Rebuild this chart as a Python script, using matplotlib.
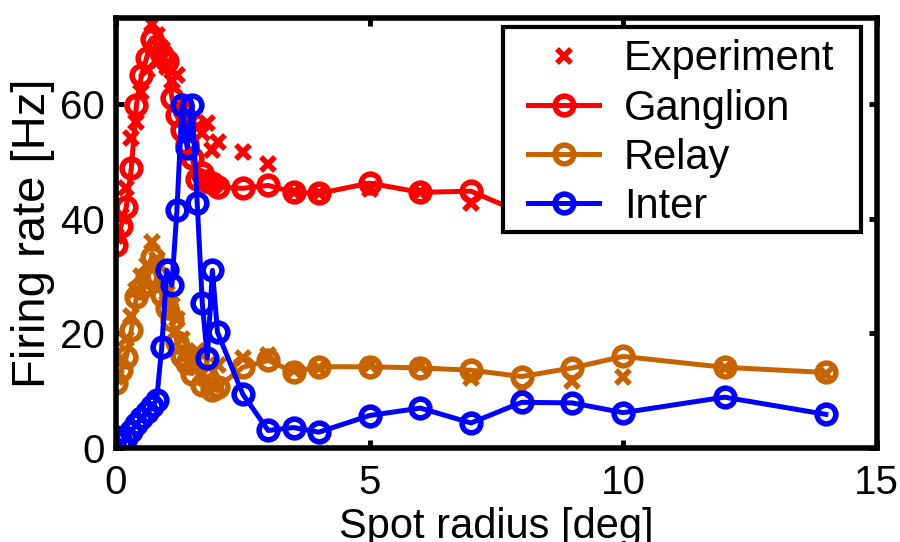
#!/usr/bin/env python3
"""Firing rate vs spot radius: experiment and model cell types."""

import matplotlib
matplotlib.use("Agg")
import matplotlib.pyplot as plt
from matplotlib.patches import Rectangle

RADIUS = [0.0, 0.1, 0.2, 0.3, 0.4, 0.5, 0.6, 0.7, 0.8, 0.9, 1.0,
          1.1, 1.2, 1.3, 1.4, 1.5, 1.6, 1.7, 1.8, 1.9, 2.0,
          2.5, 3.0, 3.5, 4.0, 5.0, 6.0, 7.0, 8.0, 9.0, 10.0, 12.0, 14.0]

GANGLION = [35.4, 38.8, 42.0, 48.8, 59.8, 65.0, 68.0, 71.4, 70.0, 68.5, 67.5,
            61.0, 58.0, 55.5, 53.0, 50.5, 47.0, 48.0, 46.5, 46.2, 45.5,
            45.3, 45.8, 44.6, 44.4, 46.2, 44.6, 44.8, 41.0, 41.5, 41.5, 42.0, 41.5]

RELAY = [11.3, 13.6, 15.9, 20.6, 26.3, 28.0, 29.8, 33.3, 30.0, 26.7, 24.5,
         22.3, 18.5, 16.0, 14.8, 13.0, 15.0, 11.0, 12.4, 10.1, 10.6,
         14.1, 15.3, 13.3, 14.2, 14.2, 14.0, 13.6, 12.5, 14.0, 16.0, 14.1, 13.2]

INTER = [2.0, 1.0, 1.8, 3.0, 4.2, 5.3, 6.3, 7.3, 8.4, 17.6, 31.0,
         28.4, 41.5, 59.8, 52.4, 59.8, 42.7, 25.3, 15.7, 31.0, 20.2,
         9.4, 3.1, 3.6, 2.8, 5.7, 7.0, 4.4, 8.0, 7.9, 6.2, 8.9, 5.9]

# experiment points, ganglion and relay cells
EXP_GANGLION = [37.0, 40.5, 45.3, 54.0, 56.8, 62.0, 66.0, 74.0, 72.0, 69.5, 66.5,
                64.0, 65.0, 59.0, 57.0, 57.0, 56.0, 55.0, 56.6, 52.0, 53.3,
                51.6, 49.6, 44.6, 44.4, 45.2, 44.6, 42.7, 41.5, 42.0, 41.5, 42.0, 41.5]

EXP_RELAY = [12.5, 15.5, 19.0, 23.0, 27.5, 30.0, 32.0, 36.0, 33.0, 28.5, 27.0,
             25.0, 22.5, 19.0, 16.5, 14.5, 17.0, 13.0, 12.0, 11.0, 14.5,
             15.8, 16.3, 13.6, 14.0, 14.5, 14.3, 12.3, 10.1, 11.8, 12.4, 14.0, 13.0]

RED = "#ff0000"
ORANGE = "#c86400"
BLUE = "#0000ff"

plt.rcParams["font.family"] = ["Liberation Sans", "DejaVu Sans"]

fig = plt.figure(figsize=(9.0, 5.42), dpi=100)
ax = fig.add_axes([0.129, 0.173, 0.845, 0.794])

exp_kw = dict(linestyle="none", marker="x", markersize=10, markeredgewidth=4)
ax.plot(RADIUS, EXP_GANGLION, color=RED, label="Experiment", **exp_kw)
ax.plot(RADIUS, EXP_RELAY, color=ORANGE, **exp_kw)

model_kw = dict(marker="o", markersize=13.5, markerfacecolor="none",
                markeredgewidth=4, linewidth=3.6)
ax.plot(RADIUS, GANGLION, color=RED, label="Ganglion", **model_kw)
ax.plot(RADIUS, RELAY, color=ORANGE, label="Relay", **model_kw)
ax.plot(RADIUS, INTER, color=BLUE, label="Inter", **model_kw)

ax.set_xlim(0, 15)
ax.set_ylim(0, 75)
ax.set_xticks([0, 5, 10, 15])
ax.set_yticks([0, 20, 40, 60])
ax.tick_params(direction="in", length=6, width=3.5, top=True, right=True,
               labelsize=29)
ax.tick_params(axis="x", pad=11)
ax.tick_params(axis="y", pad=8)
for sp in ax.spines.values():
    sp.set_linewidth(4)

ax.set_xlabel("Spot radius [deg]", fontsize=30, labelpad=4)
ax.set_ylabel("Firing rate [Hz]", fontsize=34, labelpad=4)

# legend box drawn by hand so the side padding can differ from the top one
box = Rectangle((0.5085, 0.502), 0.4715, 0.477, transform=ax.transAxes,
                facecolor="white", edgecolor="black", linewidth=3,
                zorder=4.9, clip_on=False)
ax.add_patch(box)
leg = ax.legend(loc="upper left", bbox_to_anchor=(0.542, 0.950),
                borderaxespad=0, borderpad=0, frameon=False, fontsize=30,
                handlelength=1.7, handletextpad=0.6, labelspacing=0.22)

fig.savefig("out.png", dpi=100)
